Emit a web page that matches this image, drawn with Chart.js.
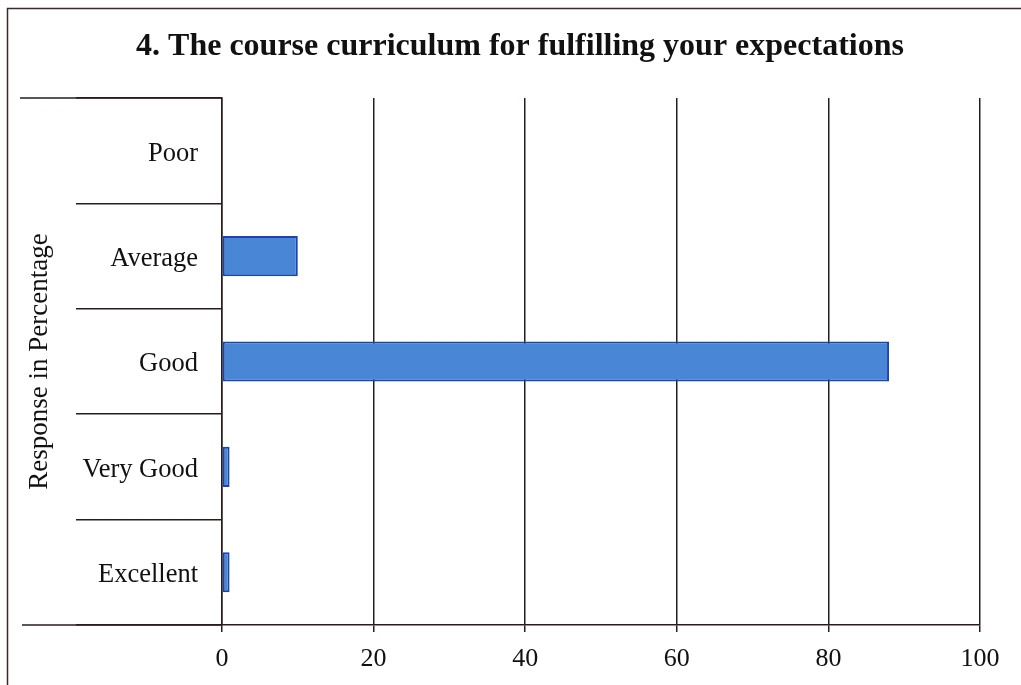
<!DOCTYPE html>
<html>
<head>
<meta charset="utf-8">
<script src="https://cdn.jsdelivr.net/npm/chart.js@4.4.1/dist/chart.umd.min.js"></script>
<style>
  html, body { margin: 0; padding: 0; background: #fff; }
  #wrap { position: relative; width: 1021px; height: 685px; }
</style>
</head>
<body>
<div id="wrap"><canvas id="c"></canvas></div>
<script>
const categories = ['Poor', 'Average', 'Good', 'Very Good', 'Excellent'];
const responseValues = [0, 10, 88, 1, 1];
const xTicks = [0, 20, 40, 60, 80, 100];
const titleText = '4. The course curriculum for fulfilling your expectations';
const yTitleText = 'Response in Percentage';

const lineColor = '#2b1c1c';
const serif = '"Liberation Serif", "Times New Roman", serif';

const framePlugin = {
  id: 'frame',
  beforeDraw(chart) {
    const ctx = chart.ctx;
    ctx.save();
    ctx.strokeStyle = '#3a2a2a';
    ctx.lineWidth = 1.5;
    ctx.beginPath();
    ctx.moveTo(7.5, 700);
    ctx.lineTo(7.5, 8.5);
    ctx.lineTo(1030, 8.5);
    ctx.stroke();
    ctx.restore();
  },
  afterDraw(chart) {
    const ctx = chart.ctx;
    const a = chart.chartArea;
    ctx.save();
    ctx.strokeStyle = lineColor;
    ctx.lineWidth = 1.5;
    ctx.beginPath();
    ctx.moveTo(20, a.top);
    ctx.lineTo(a.left, a.top);
    ctx.moveTo(22, a.bottom);
    ctx.lineTo(a.left, a.bottom);
    ctx.stroke();
    ctx.restore();
  }
};

new Chart(document.getElementById('c'), {
  type: 'bar',
  data: {
    labels: categories,
    datasets: [{
      data: responseValues,
      backgroundColor: '#4a86d6',
      borderColor: '#1a45b0',
      borderWidth: 2,
      borderSkipped: false,
      barPercentage: 0.38,
      categoryPercentage: 1.0
    }]
  },
  options: {
    indexAxis: 'y',
    responsive: true,
    maintainAspectRatio: false,
    animation: false,
    layout: { padding: { left: 20, right: 1, top: 0, bottom: 0 } },
    plugins: {
      legend: { display: false },
      tooltip: { enabled: false },
      title: {
        display: true,
        text: titleText,
        color: '#111',
        font: { family: serif, size: 32, weight: 'bold', lineHeight: 1.2 },
        padding: { top: 28, bottom: 31.6 }
      }
    },
    scales: {
      x: {
        type: 'linear',
        min: 0,
        max: 100,
        afterBuildTicks(scale) { scale.ticks = xTicks.map(v => ({ value: v })); },
        afterFit(scale) { scale.height = 60; },
        grid: {
          color: lineColor,
          lineWidth: 1.5,
          drawTicks: true,
          tickLength: 7,
          tickColor: lineColor
        },
        border: { display: true, color: lineColor, width: 1.5 },
        ticks: {
          color: '#111',
          padding: 12,
          maxRotation: 0,
          font: { family: serif, size: 26 }
        }
      },
      y: {
        type: 'category',
        offset: true,
        afterFit(scale) { scale.width = 202; },
        grid: {
          offset: true,
          drawOnChartArea: false,
          drawTicks: true,
          tickLength: 146,
          color: lineColor,
          tickColor: lineColor,
          lineWidth: 1.5
        },
        border: { display: true, color: lineColor, width: 1.5 },
        ticks: {
          color: '#111',
          padding: -122,
          labelOffset: 3,
          font: { family: serif, size: 26.5 }
        },
        title: {
          display: true,
          text: yTitleText,
          color: '#111',
          padding: { top: 4, bottom: 0 },
          font: { family: serif, size: 27, lineHeight: 1.2 }
        }
      },
      yRightSpace: {
        type: 'category',
        position: 'right',
        afterFit(scale) { scale.width = 40; },
        grid: { display: false },
        border: { display: false },
        ticks: { display: false }
      }
    }
  },
  plugins: [framePlugin]
});
</script>
</body>
</html>
